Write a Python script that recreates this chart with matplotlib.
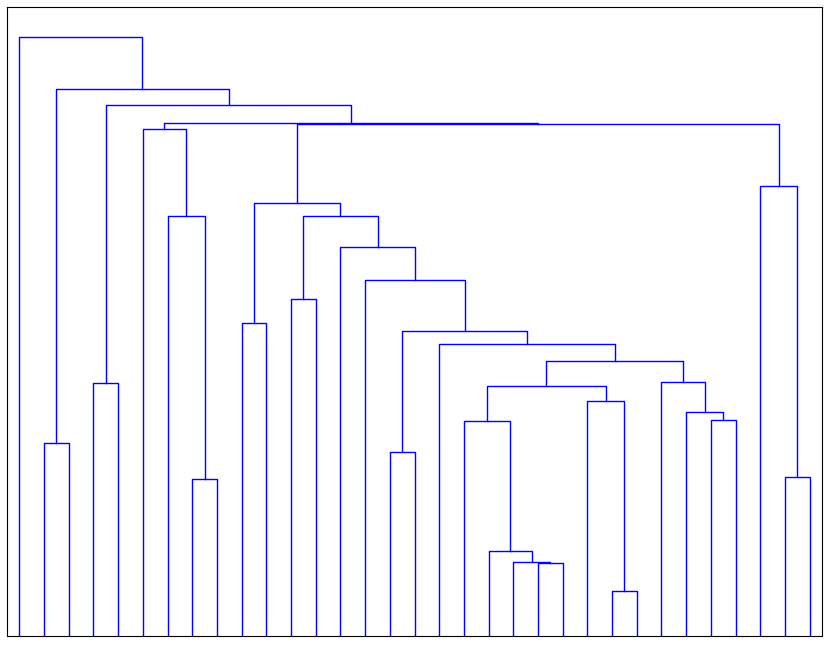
import matplotlib
matplotlib.use("Agg")
import matplotlib.pyplot as plt

# 33 leaves (0..32), merges in height order. ints are leaves, strings are earlier clusters
n_leaves = 33
cluster_names = ["U", "T", "S", "c24", "c1", "c3", "c7", "c9", "c11", "c15", "W", "c31", "V", "P", "Q", "R",
                 "O", "N", "M", "L", "K", "J", "I", "F", "H", "D", "E", "G", "C", "B", "A", "root"]
left_children = [21, 20, 19, 24, 1, 3, 7, 9, 11, 15, 28, 31, 27, 26, 18, 23,
                 "Q", "O", 17, "c15", 14, 13, "c11", "c9", 6, 5, 30, "F", "D", "c3", "c1", 0]
right_children = [22, "U", "T", 25, 2, 4, 8, 10, 12, 16, 29, 32, "W", "V", "S", "c24",
                  "R", "P", "N", "M", "L", "K", "J", "I", "c7", "H", "c31", "E", "G", "C", "B", "A"]
heights = [72.5, 74.0, 84.5, 45.0, 193.0, 253.0, 157.0, 313.0, 336.7, 183.7, 215.7, 159.0, 223.7, 254.3,
           215.3, 235.3, 250.0, 275.0, 292.0, 305.3, 355.7, 389.0, 420.0, 433.3, 419.7, 506.7, 450.0, 512.0,
           512.5, 531.3, 547.3, 599.0]

# leaf positions like scipy: 5, 15, 25, ...
pos = {i: 5 + 10 * i for i in range(n_leaves)}
hgt = {i: 0.0 for i in range(n_leaves)}

fig = plt.figure(figsize=(8.3, 6.45), dpi=100)
ax = fig.add_axes([7 / 830, 9 / 645, 815 / 830, 629 / 645])

for a, b, name, h in zip(left_children, right_children, cluster_names, heights):
    xa, xb = pos[a], pos[b]
    ax.plot([xa, xa, xb, xb], [hgt[a], h, h, hgt[b]], color="b", linewidth=1.0)
    pos[name] = (xa + xb) / 2
    hgt[name] = h

ax.set_xlim(0, 10 * n_leaves)
ax.set_ylim(0, max(heights) * 1.05)
ax.set_xticks([])
ax.set_yticks([])

fig.savefig("out.png", dpi=100)
